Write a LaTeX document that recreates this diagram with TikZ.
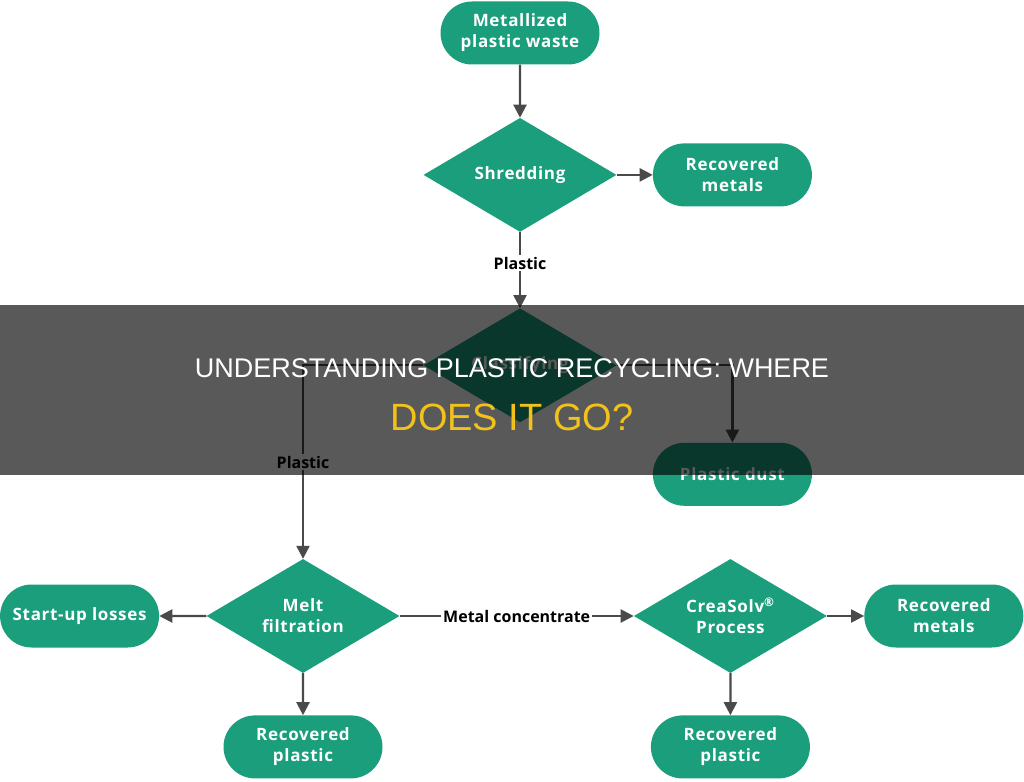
\documentclass[tikz,border=0pt]{standalone}
\usepackage{fontspec}
\setmainfont{Open Sans}
\newfontfamily\titlefont{Liberation Sans}
\usepackage{tikz}
\usetikzlibrary{positioning,shapes.geometric,shapes.misc,arrows.meta}
\definecolor{flowgreen}{HTML}{1A9E7C}
\definecolor{flowgray}{HTML}{4A4A4A}
\definecolor{titleyellow}{HTML}{F2C21B}
\newcommand{\boxtext}[1]{\addfontfeatures{LetterSpace=4}\bfseries #1}

\begin{document}
\begin{tikzpicture}[
          node distance=40pt and 36pt,
          term/.style={rounded rectangle,fill=flowgreen,text=white,minimum width=163pt,
            minimum height=63pt,inner sep=2pt,align=center,
            font=\fontsize{17}{21}\selectfont\boxtext},
          dec/.style={diamond,fill=flowgreen,text=white,minimum width=193pt,
            minimum height=114pt,inner sep=0pt,aspect=1.7,align=center,
            font=\fontsize{17}{21}\selectfont\boxtext},
          lbl/.style={fill=white,inner sep=2pt,text=black,
            font=\fontsize{16}{19}\selectfont\bfseries},
          flow/.style={draw=flowgray,line width=2.2pt,-{Triangle[length=13pt,width=13pt]}}
            ]
    \useasboundingbox (0,0) rectangle (1024pt,-781pt);
    % top column
    \node[term] (waste) at (520pt,-33pt) {Metallized\\plastic waste};
    \node[dec,below=53pt of waste] (shred) {Shredding};
    \node[term,right=36pt of shred] (recm1) {Recovered\\metals};
    \node[dec,below=76pt of shred] (classify) {Classifying};
    \node[term,below=236pt of recm1] (dust) {Plastic dust};
    % bottom row
    \node[dec] (melt) at (303pt,-616pt) {Melt\\filtration};
    \node[term,left=47pt of melt] (losses) {Start-up losses};
    \node[term,below=42pt of melt] (recp1) {Recovered\\plastic};
    \node[dec,right=234pt of melt] (crea) {CreaSolv\textsuperscript{®}\\Process};
    \node[term,right=37pt of crea] (recm2) {Recovered\\metals};
    \node[term,below=42pt of crea] (recp2) {Recovered\\plastic};
    \path (waste) edge[flow] (shred)
    (shred) edge[flow] (recm1)
    (shred) edge[flow] node[lbl,pos=0.41] {Plastic} (classify)
    (melt) edge[flow] (losses)
    (melt) edge[flow] (recp1)
    (melt) edge[flow] node[lbl] {Metal concentrate} (crea)
    (crea) edge[flow] (recm2)
    (crea) edge[flow] (recp2);
    \draw[flow] (classify.west) -| node[lbl,pos=0.75] {Plastic} (melt.north);
    \draw[flow] (classify.east) -| (dust.north);
    % title band
    \fill[black,opacity=0.65] (0,-305pt) rectangle (1024pt,-475pt);
    \node[text=white,font=\fontsize{27}{32}\selectfont\titlefont,anchor=base,inner sep=0pt]
      (title1) at (512pt,-377pt) {UNDERSTANDING PLASTIC RECYCLING: WHERE};
    \node[text=titleyellow,font=\fontsize{38}{44}\selectfont\titlefont,anchor=base,inner sep=0pt]
      (title2) at (512pt,-430pt) {DOES IT GO?};
\end{tikzpicture}
\end{document}
